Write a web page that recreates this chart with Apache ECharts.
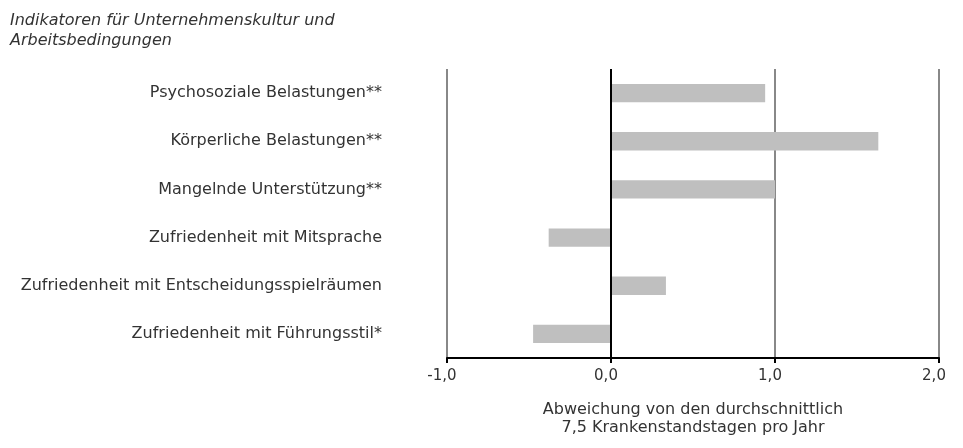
<!DOCTYPE html>
<html><head><meta charset="utf-8">
<script src="https://cdn.jsdelivr.net/npm/echarts@6/dist/echarts.min.js"></script>
<style>html,body{margin:0;padding:0;background:#fff}#c{width:963px;height:448px}</style>
</head><body><div id="c"></div>
<script>
const categories = [
  "Psychosoziale Belastungen**",
  "Körperliche Belastungen**",
  "Mangelnde Unterstützung**",
  "Zufriedenheit mit Mitsprache",
  "Zufriedenheit mit Entscheidungsspielräumen",
  "Zufriedenheit mit Führungsstil*"
];
const values = [0.94, 1.63, 1.0, -0.38, 0.335, -0.475];
const xTicks = [-1, 0, 1, 2];
const titleText = "Indikatoren für Unternehmenskultur und\nArbeitsbedingungen";
const axisTitle = "Abweichung von den durchschnittlich\n7,5 Krankenstandstagen pro Jahr";

const font = "'DejaVu Sans', sans-serif";
const chart = echarts.init(document.getElementById('c'));
chart.setOption({
  animation: false,
  title: {
    text: titleText, left: 5, top: 6,
    textStyle: { fontFamily: font, fontSize: 16, fontStyle: 'italic', fontWeight: 'normal', color: '#333', lineHeight: 20 }
  },
  grid: { left: 447, right: 24, top: 69, bottom: 90 },
  xAxis: {
    type: 'value', min: xTicks[0], max: xTicks[xTicks.length - 1], interval: 1,
    axisLine: { show: true, onZero: false, lineStyle: { color: '#000', width: 2 } },
    axisTick: { show: true, length: 5, lineStyle: { color: '#000', width: 2 } },
    axisLabel: { fontFamily: font, fontSize: 15, color: '#333', margin: 11, padding: [0, 10, 0, 0],
      formatter: v => v.toFixed(1).replace('.', ',') },
    splitLine: { show: true, lineStyle: { color: '#888', width: 2 } },
    name: axisTitle, nameLocation: 'middle', nameGap: 43,
    nameTextStyle: { fontFamily: font, fontSize: 16, color: '#333', lineHeight: 18 }
  },
  yAxis: {
    type: 'category', data: categories, inverse: true,
    axisLine: { show: false }, axisTick: { show: false },
    axisLabel: { fontFamily: font, fontSize: 16, color: '#333', margin: 65 }
  },
  series: [{
    type: 'bar', data: values, barWidth: '38%',
    itemStyle: { color: '#bfbfbf' },
    markLine: {
      silent: true, symbol: 'none', label: { show: false },
      lineStyle: { color: '#000', width: 2, type: 'solid' },
      data: [{ xAxis: 0 }]
    }
  }]
});
</script></body></html>
